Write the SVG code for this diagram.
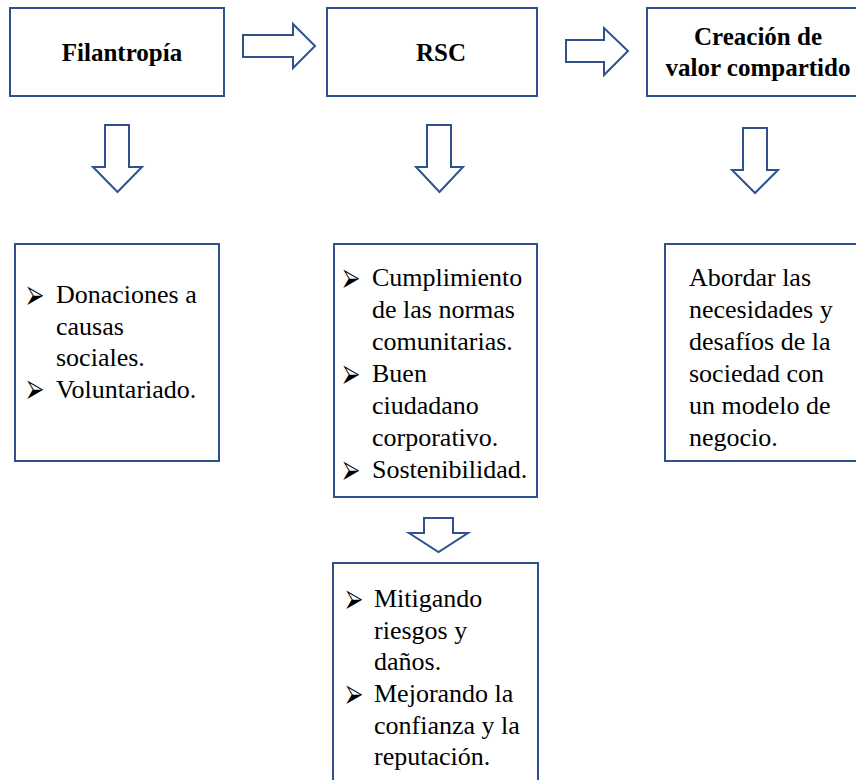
<svg xmlns="http://www.w3.org/2000/svg" width="856" height="780" viewBox="0 0 856 780">
  <style>
    .box { fill: #ffffff; stroke: #2f528f; stroke-width: 2; }
    .arrow { fill: #ffffff; stroke: #2f528f; stroke-width: 2; stroke-linejoin: miter; }
    .hd { font-family: 'Liberation Serif'; font-weight: bold; font-size: 25px; fill: #000; text-anchor: middle; }
    .tx { font-family: 'Liberation Serif'; font-size: 26px; fill: #000; }
    .mk { font-family: 'DejaVu Sans'; font-size: 23px; fill: #000; }
  </style>
  <rect width="856" height="780" fill="#ffffff"/>

  <!-- block arrows between and below the boxes -->
  <g id="connectors">
    <path class="arrow" d="M243,35 H293 V24 L315,46 L293,68 V57 H243 Z"/>
    <path class="arrow" d="M566,40 H604 V28 L628,51 L604,75 V62 H566 Z"/>
    <path class="arrow" d="M105,125 H129 V167 H142 L117.5,192 L93,167 H105 Z"/>
    <path class="arrow" d="M427,125 H451 V167 H463 L439.5,192 L416,167 H427 Z"/>
    <path class="arrow" d="M743,128 H767 V170 H778 L755,193 L732,170 H743 Z"/>
    <path class="arrow" d="M424,518 H453 V533 H468 L438.5,552 L409,533 H424 Z"/>
  </g>

  <g id="filantropia">
    <rect class="box" x="10" y="8" width="214" height="88"/>
    <text class="hd" x="122" y="61">Filantrop&#237;a</text>
  </g>

  <g id="rsc">
    <rect class="box" x="327" y="8" width="210" height="88"/>
    <text class="hd" x="441" y="61">RSC</text>
  </g>

  <g id="valor-compartido">
    <rect class="box" x="647" y="8" width="230" height="88"/>
    <text class="hd" x="758" y="45">Creaci&#243;n de</text>
    <text class="hd" x="758" y="76">valor compartido</text>
  </g>

  <g id="filantropia-detalle">
    <rect class="box" x="15" y="244" width="204" height="217"/>
    <text class="mk" x="27" y="302">&#x2B9A;</text>
    <text class="tx" x="56" y="303">Donaciones a</text>
    <text class="tx" x="56" y="334.5">causas</text>
    <text class="tx" x="56" y="366">sociales.</text>
    <text class="mk" x="27" y="396">&#x2B9A;</text>
    <text class="tx" x="56" y="397.5">Voluntariado.</text>
  </g>

  <g id="rsc-detalle">
    <rect class="box" x="334" y="244" width="203" height="253"/>
    <text class="mk" x="343" y="285">&#x2B9A;</text>
    <text class="tx" x="372" y="286">Cumplimiento</text>
    <text class="tx" x="372" y="318">de las normas</text>
    <text class="tx" x="372" y="350">comunitarias.</text>
    <text class="mk" x="343" y="381">&#x2B9A;</text>
    <text class="tx" x="372" y="382">Buen</text>
    <text class="tx" x="372" y="414">ciudadano</text>
    <text class="tx" x="372" y="446">corporativo.</text>
    <text class="mk" x="343" y="477">&#x2B9A;</text>
    <text class="tx" x="372" y="478">Sostenibilidad.</text>
  </g>

  <g id="valor-compartido-detalle">
    <rect class="box" x="665" y="244" width="210" height="217"/>
    <text class="tx" x="689" y="286">Abordar las</text>
    <text class="tx" x="689" y="318">necesidades y</text>
    <text class="tx" x="689" y="350">desaf&#237;os de la</text>
    <text class="tx" x="689" y="382">sociedad con</text>
    <text class="tx" x="689" y="414">un modelo de</text>
    <text class="tx" x="689" y="446">negocio.</text>
  </g>

  <g id="rsc-resultados">
    <rect class="box" x="333" y="563" width="205" height="230"/>
    <text class="mk" x="346" y="606">&#x2B9A;</text>
    <text class="tx" x="374" y="607">Mitigando</text>
    <text class="tx" x="374" y="639">riesgos y</text>
    <text class="tx" x="374" y="670">da&#241;os.</text>
    <text class="mk" x="346" y="701">&#x2B9A;</text>
    <text class="tx" x="374" y="702">Mejorando la</text>
    <text class="tx" x="374" y="734">confianza y la</text>
    <text class="tx" x="374" y="765">reputaci&#243;n.</text>
  </g>
</svg>
